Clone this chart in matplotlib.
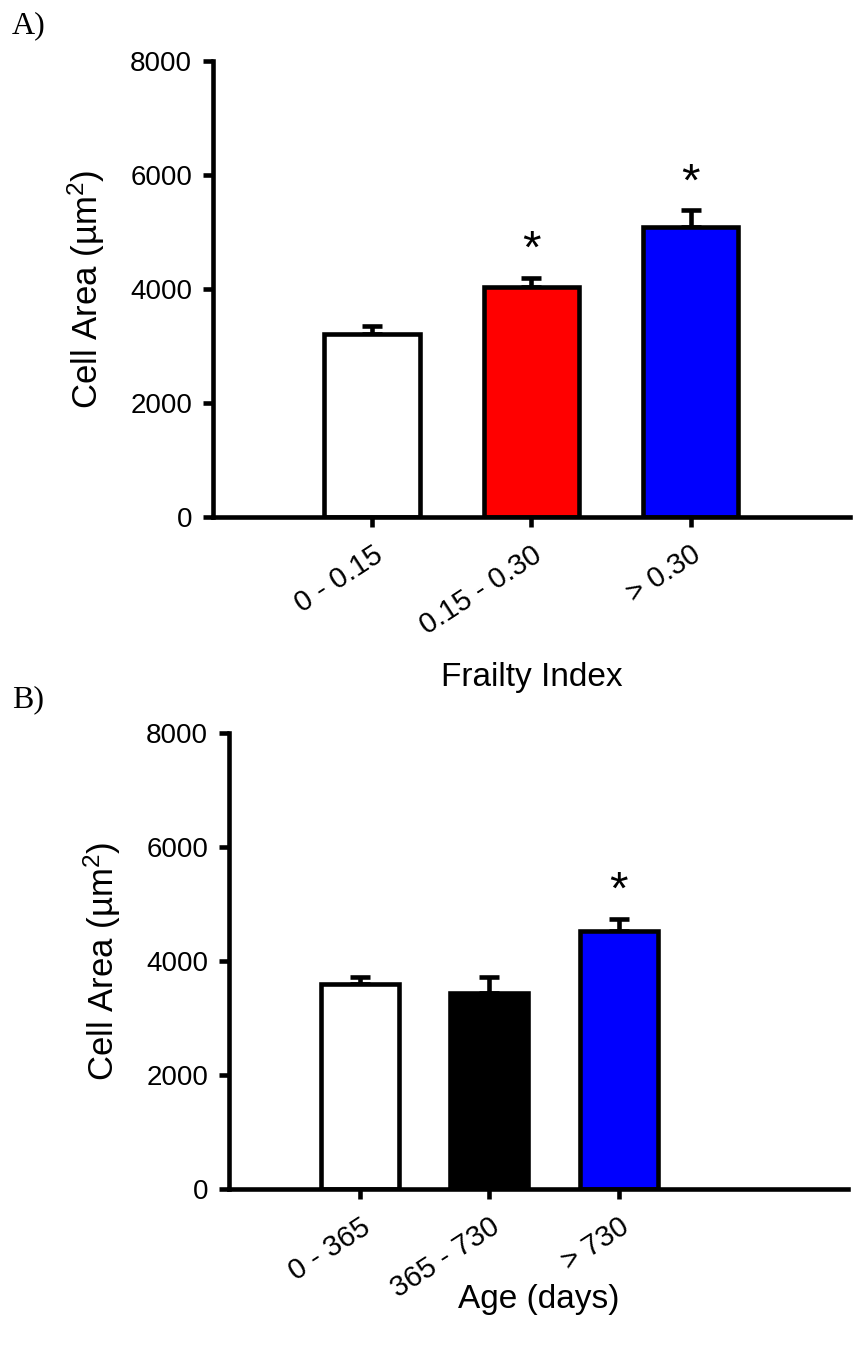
"""Cell area bar charts grouped by frailty index and by age."""

import matplotlib

matplotlib.use("Agg")
import matplotlib.pyplot as plt
import numpy as np

plt.rcParams["font.family"] = ["Liberation Sans", "DejaVu Sans"]
plt.rcParams["mathtext.fontset"] = "custom"
plt.rcParams["mathtext.rm"] = "Liberation Sans"
plt.rcParams["mathtext.it"] = "Liberation Sans:italic"

# Panel A: cell area by frailty index
frailty_groups = ["0 - 0.15", "0.15 - 0.30", "> 0.30"]
frailty_area = [3210, 4030, 5080]
frailty_sem = [140, 160, 300]
frailty_colors = ["white", "#ff0000", "#0000ff"]
frailty_signif = [False, True, True]

# Panel B: cell area by age
age_groups = ["0 - 365", "365 - 730", "> 730"]
age_area = [3590, 3440, 4530]
age_sem = [130, 280, 210]
age_colors = ["white", "black", "#0000ff"]
age_signif = [False, False, True]

LW = 3.3


def draw_panel(ax, groups, area, sem, colors, signif, xlim, xlabel, xlabel_y, ylabel_x):
    x = np.arange(len(groups))
    ax.bar(x, area, width=0.6, color=colors, edgecolor="black", linewidth=LW, zorder=2)
    ax.errorbar(x, area, yerr=[np.zeros(len(sem)), sem], fmt="none", ecolor="black",
                elinewidth=LW, capsize=7, capthick=LW, zorder=1)
    for xi, a, s, star in zip(x, area, sem, signif):
        if star:
            ax.text(xi, a + s + 90, "*", ha="center", va="bottom", fontsize=34)

    ax.set_xlim(*xlim)
    ax.set_ylim(0, 8000)
    ax.set_yticks([0, 2000, 4000, 6000, 8000])
    ax.set_xticks(x)
    ax.set_xticklabels(groups, rotation=33, ha="right", rotation_mode="anchor")
    ax.tick_params(axis="both", width=LW, length=7, labelsize=20, pad=8)
    ax.tick_params(axis="x", labelsize=21, pad=10)
    for side in ("top", "right"):
        ax.spines[side].set_visible(False)
    for side in ("left", "bottom"):
        ax.spines[side].set_linewidth(LW)
    ax.set_ylabel("Cell Area (µm$^2$)", fontsize=25)
    ax.yaxis.set_label_coords(ylabel_x, 0.5)
    ax.text(0.5, xlabel_y, xlabel, transform=ax.transAxes, ha="center", va="center", fontsize=24)


fig = plt.figure(figsize=(8.62, 13.62), dpi=100)
ax_a = fig.add_axes([0.247, 0.6204, 0.739, 0.3348])
ax_b = fig.add_axes([0.2657, 0.1270, 0.7181, 0.3348])

draw_panel(ax_a, frailty_groups, frailty_area, frailty_sem, frailty_colors, frailty_signif,
           (-1.0, 3.0), "Frailty Index", -0.353, -0.167)
draw_panel(ax_b, age_groups, age_area, age_sem, age_colors, age_signif,
           (-1.01, 3.77), "Age (days)", -0.243, -0.172)

fig.text(0.014, 0.981, "A)", family="Liberation Serif", fontsize=23, va="center", ha="left")
fig.text(0.014, 0.486, "B)", family="Liberation Serif", fontsize=23, va="center", ha="left")

fig.savefig("out.png", dpi=100)
plt.close(fig)
